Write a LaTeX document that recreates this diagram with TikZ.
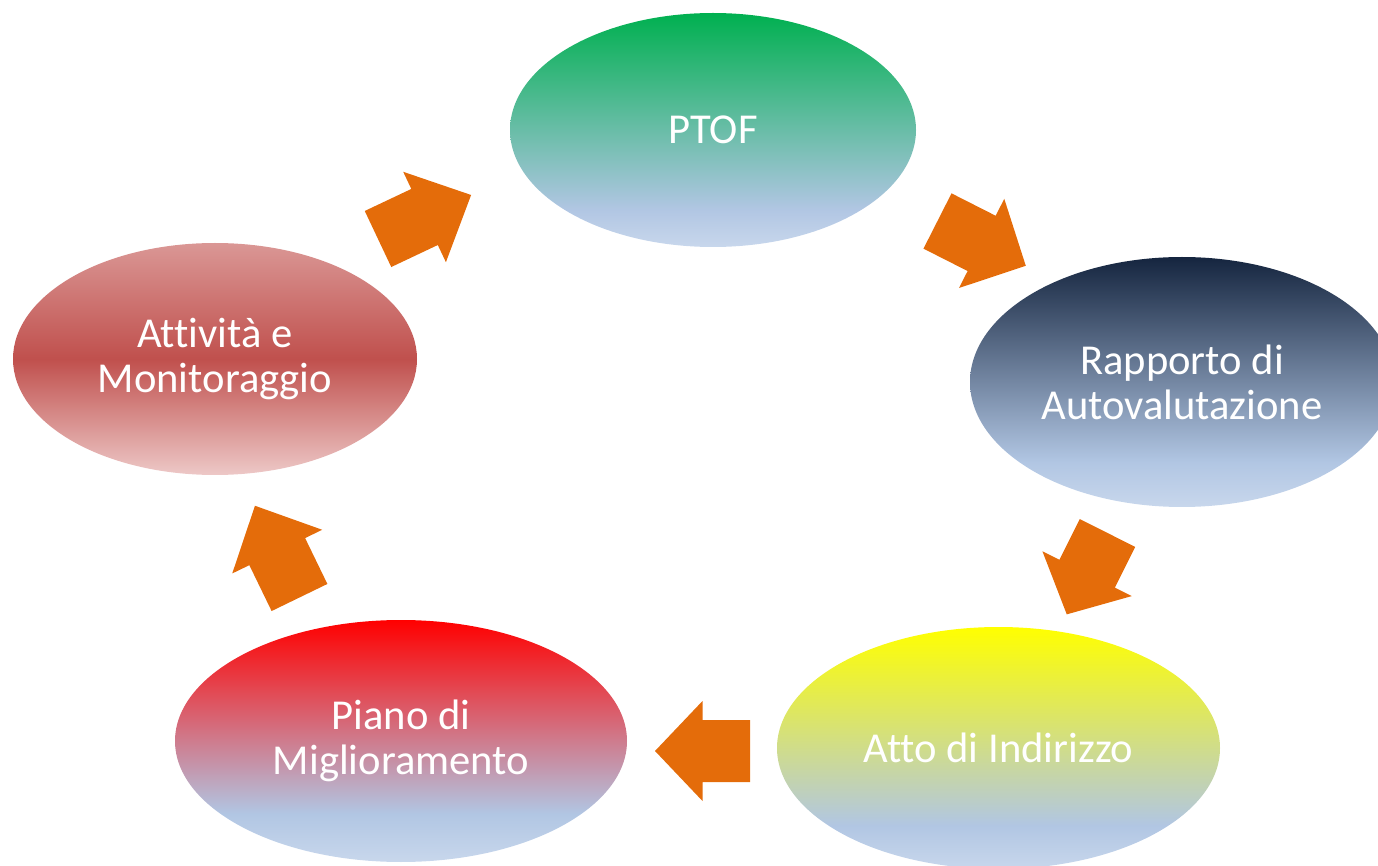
\documentclass[tikz,border=0pt]{standalone}
\usepackage{fontspec}
\setmainfont{Carlito}[Ligatures=NoCommon]
\usetikzlibrary{shapes.geometric}
\definecolor{arrowc}{HTML}{E46C0A}
\definecolor{lblue}{HTML}{B1C6E3}
\definecolor{lbluebot}{HTML}{C8D7EC}
\definecolor{ptoftop}{HTML}{00B050}
\definecolor{ravtop}{HTML}{15253F}
\definecolor{attotop}{HTML}{FFFF00}
\definecolor{pdmtop}{HTML}{FF0000}
\definecolor{atttop}{HTML}{DA9795}
\definecolor{attmid}{HTML}{C0504D}
\definecolor{attbot}{HTML}{EDC8C7}
\pgfdeclareverticalshading{ptofshade}{100bp}{color(0bp)=(lbluebot); color(25bp)=(lbluebot); color(33bp)=(lblue); color(75bp)=(ptoftop); color(100bp)=(ptoftop)}
\pgfdeclareverticalshading{ravshade}{100bp}{color(0bp)=(lbluebot); color(25bp)=(lbluebot); color(34bp)=(lblue); color(75bp)=(ravtop); color(100bp)=(ravtop)}
\pgfdeclareverticalshading{attoshade}{100bp}{color(0bp)=(lbluebot); color(25bp)=(lbluebot); color(34bp)=(lblue); color(75bp)=(attotop); color(100bp)=(attotop)}
\pgfdeclareverticalshading{pdmshade}{100bp}{color(0bp)=(lbluebot); color(25bp)=(lbluebot); color(35bp)=(lblue); color(75bp)=(pdmtop); color(100bp)=(pdmtop)}
\pgfdeclareverticalshading{attshade}{100bp}{color(0bp)=(attbot); color(25bp)=(attbot); color(50bp)=(attmid); color(75bp)=(atttop); color(100bp)=(atttop)}
\tikzset{
  bubble/.style={ellipse, inner sep=0pt, text=white, align=center,
    font=\fontsize{21.3pt}{22.5pt}\selectfont},
  pics/blockarrow/.style={code={
    \fill[arrowc] (0,-31) -- (#1/2,-31) -- (#1/2,-50) -- (#1,0) -- (#1/2,50) -- (#1/2,31) -- (0,31) -- cycle;}}
}
\begin{document}
\begin{tikzpicture}[x=0.5pt,y=0.5pt]
\useasboundingbox (0,0) rectangle (1378,-866);
\node[bubble, shading=ptofshade, minimum width=203pt, minimum height=117pt] (ptof) at (713,-130) {PTOF};
\node[bubble, shading=ravshade, minimum width=212pt, minimum height=125pt] (rav) at (1182,-382) {Rapporto di\\Autovalutazione};
\node[bubble, shading=attoshade, minimum width=221.5pt, minimum height=121pt] (atto) at (998.5,-748) {Atto di Indirizzo};
\node[bubble, shading=pdmshade, minimum width=226pt, minimum height=121pt] (pdm) at (401,-741) {Piano di\\Miglioramento};
\node[bubble, shading=attshade, minimum width=202pt, minimum height=116pt] (att) at (215,-359) {Attività e\\Monitoraggio};
\pic[rotate=25.3] at (378,-239) {blockarrow=103};
\pic[rotate=-26.9] at (937.5,-221) {blockarrow=99};
\pic[rotate=-116.6] at (1107.5,-533) {blockarrow=91};
\pic[rotate=180] at (750,-751) {blockarrow=95};
\pic[rotate=115.9] at (299.5,-597.5) {blockarrow=102};
\end{tikzpicture}
\end{document}
